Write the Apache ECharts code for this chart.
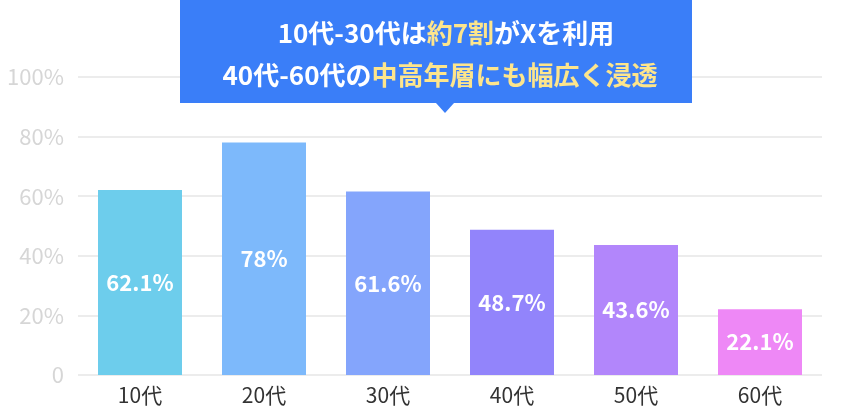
<!DOCTYPE html>
<html>
<head>
<meta charset="utf-8">
<script src="https://cdn.jsdelivr.net/npm/echarts@6/dist/echarts.min.js"></script>
<style>
html,body{margin:0;padding:0;background:#fff}
#main{width:868px;height:418px}
</style>
</head>
<body>
<div id="main"></div>
<script>
var ages = ['10代', '20代', '30代', '40代', '50代', '60代'];
var rates = [62.1, 78, 61.6, 48.7, 43.6, 22.1];
var barColors = ['#6dcdec', '#7db9fb', '#84a5fc', '#9284fb', '#b286fb', '#ee88f6'];
var yTicks = [0, 20, 40, 60, 80, 100];

var font = '"Noto Sans CJK JP", "Noto Sans", sans-serif';
var myChart = echarts.init(document.getElementById('main'));

var rich = {
    w: {fill: '#fff', fontSize: 26, fontWeight: 'bold', fontFamily: font},
    y: {fill: '#fde58c', fontSize: 26, fontWeight: 'bold', fontFamily: font}
};

var option = {
    animation: false,
    grid: {left: 78, right: 46, top: 77, bottom: 43},
    xAxis: {
        type: 'category',
        data: ages,
        axisLine: {show: false},
        axisTick: {show: false},
        axisLabel: {color: '#333', fontSize: 21, fontFamily: font, margin: 10}
    },
    yAxis: {
        type: 'value',
        min: 0, max: 100, interval: 20,
        axisLabel: {
            color: '#d6d6d6', fontSize: 22, fontFamily: font, margin: 14,
            formatter: function (v) { return v == 0 ? '0' : v + '%'; }
        },
        splitLine: {lineStyle: {color: '#e6e6e6', width: 1.5}}
    },
    series: [{
        type: 'bar',
        barWidth: 84,
        data: rates.map(function (v, i) {
            return {value: v, itemStyle: {color: barColors[i]}};
        }),
        label: {
            show: true, position: 'inside',
            color: '#fff', fontSize: 22, fontWeight: 'bold', fontFamily: font,
            formatter: '{c}%'
        }
    }],
    graphic: [
        {type: 'rect', left: 180, top: 0, shape: {width: 512, height: 103}, style: {fill: '#3a7ef8'}, z: 10},
        {type: 'polygon', shape: {points: [[436, 103], [454, 103], [445, 113]]}, style: {fill: '#3a7ef8'}, z: 10},
        {
            type: 'text', x: 446, y: 33, z: 11,
            style: {text: '{w|10代-30代は}{y|約7割}{w|がXを利用}', align: 'center', verticalAlign: 'middle', rich: rich}
        },
        {
            type: 'text', x: 440, y: 75, z: 11,
            style: {text: '{w|40代-60代の}{y|中高年層にも幅広く浸透}', align: 'center', verticalAlign: 'middle', rich: rich}
        }
    ]
};
myChart.setOption(option);
</script>
</body>
</html>
